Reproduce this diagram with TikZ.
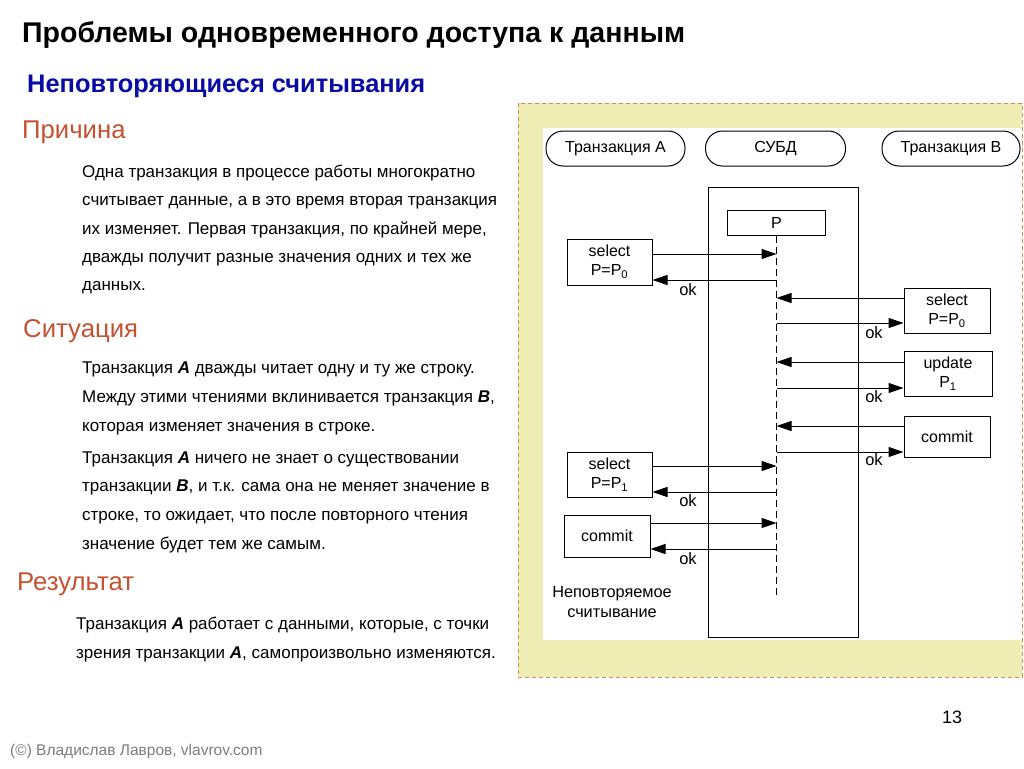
\documentclass[tikz,border=0pt]{standalone}
\usepackage{fontspec}
\setmainfont{Liberation Sans}
\usetikzlibrary{arrows.meta}
\definecolor{headred}{RGB}{196,82,50}
\definecolor{subblue}{RGB}{10,10,165}
\definecolor{panelyel}{RGB}{240,237,180}
\definecolor{paneldash}{RGB}{200,145,85}
\definecolor{footgray}{RGB}{125,125,125}
\begin{document}
\begin{tikzpicture}[x=1pt,y=-1pt,
  body/.style={anchor=base west, inner sep=0pt, font=\fontsize{17}{20}\selectfont},
  head/.style={anchor=base west, inner sep=0pt, text=headred, font=\fontsize{25.7}{30}\selectfont},
  box/.style={draw, line width=1pt, fill=white, align=center, inner sep=0pt,
    font=\fontsize{16}{19}\selectfont},
  pill/.style={box, rounded corners=17pt, minimum height=35pt, minimum width=139pt},
  msg/.style={line width=1pt, -{Triangle[length=15pt,width=10pt]}},
  oklab/.style={inner sep=0pt, font=\fontsize{16.5}{18}\selectfont},
  lifeline/.style={line width=1pt, dash pattern=on 7pt off 4pt}
]
\useasboundingbox (0,0) rectangle (1024,768);
\fill[white] (0,0) rectangle (1024,768);

% titles
\node[anchor=base west, inner sep=0pt, font=\fontsize{28.5}{32}\selectfont\bfseries] (title) at (22,42) {Проблемы одновременного доступа к данным};
\node[anchor=base west, inner sep=0pt, text=subblue, font=\fontsize{25.4}{30}\selectfont\bfseries] (subtitle) at (27,92) {Неповторяющиеся считывания};

% Причина
\node[head] (h1) at (22,138) {Причина};
\node[body] (p1a) at (82,177) {Одна транзакция в процессе работы многократно};
\node[body] (p1b) at (82,205.5) {считывает данные, а в это время вторая транзакция};
\node[body] (p1c) at (82,234) {их изменяет. Первая транзакция, по крайней мере,};
\node[body] (p1d) at (82,262) {дважды получит разные значения одних и тех же};
\node[body] (p1e) at (82,290.5) {данных.};

% Ситуация
\node[head] (h2) at (23,337) {Ситуация};
\node[body] (p2a) at (82,373) {Транзакция \textbf{\textit{A}} дважды читает одну и ту же строку.};
\node[body] (p2b) at (82,402) {Между этими чтениями вклинивается транзакция \textbf{\textit{B}},};
\node[body] (p2c) at (82,431) {которая изменяет значения в строке.};
\node[body] (p2d) at (82,463) {Транзакция \textbf{\textit{A}} ничего не знает о существовании};
\node[body] (p2e) at (82,491) {транзакции \textbf{\textit{B}}, и т.к. сама она не меняет значение в};
\node[body] (p2f) at (82,520) {строке, то ожидает, что после повторного чтения};
\node[body] (p2g) at (82,549) {значение будет тем же самым.};

% Результат
\node[head] (h3) at (17,590) {Результат};
\node[body] (p3a) at (76,629) {Транзакция \textbf{\textit{A}} работает с данными, которые, с точки};
\node[body] (p3b) at (76,658) {зрения транзакции \textbf{\textit{A}}, самопроизвольно изменяются.};

% footer
\node[anchor=base west, inner sep=0pt, text=footgray, font=\fontsize{15.5}{18}\selectfont] (foot) at (10,755) {(©) Владислав Лавров, vlavrov.com};
\node[inner sep=0pt, font=\fontsize{18}{20}\selectfont] (pagenum) at (952,717) {13};

% panel
\draw[fill=panelyel, draw=paneldash, line width=1pt, dash pattern=on 4pt off 3pt] (518,103) rectangle (1022,677);
\fill[white] (543,128) rectangle (1021.5,640);

% pills
\node[pill] (ta) at (615.5,148.5) {Транзакция А};
\node[pill, minimum width=140pt] (dbms) at (775.5,148.5) {СУБД};
\node[pill, minimum width=138pt] (tb) at (951,148.5) {Транзакция B};

% DBMS body
\draw[line width=1pt] (708,187) rectangle (858,637);
\node[box, minimum width=98pt, minimum height=25pt] (pbox) at (776.5,222.5) {P};
\coordinate (lifetop) at (pbox.south);
\coordinate (lifebot) at (776.5,596);
\draw[lifeline] (lifetop) -- (lifebot);

% left boxes
\node[box, minimum width=85pt, minimum height=46pt] (sa1) at (609.5,262) {select\\P=P\textsubscript{0}};
\node[box, minimum width=85pt, minimum height=45pt] (sa2) at (609.5,474.5) {select\\P=P\textsubscript{1}};
\node[box, minimum width=86pt, minimum height=42pt] (ca) at (607,536) {commit};

% right boxes
\node[box, minimum width=86pt, minimum height=45pt] (sb) at (947,310.5) {select\\P=P\textsubscript{0}};
\node[box, minimum width=88pt, minimum height=45pt] (ub) at (948,373.5) {update\\P\textsubscript{1}};
\node[box, minimum width=86pt, minimum height=41pt] (cb) at (947,436.5) {commit};

% lifeline points
\coordinate (l1) at (776.5,254);
\coordinate (l2) at (776.5,280);
\coordinate (l3) at (776.5,298);
\coordinate (l4) at (776.5,323);
\coordinate (l5) at (776.5,362);
\coordinate (l6) at (776.5,388);
\coordinate (l7) at (776.5,426);
\coordinate (l8) at (776.5,452);
\coordinate (l9) at (776.5,466);
\coordinate (l10) at (776.5,492);
\coordinate (l11) at (776.5,523);
\coordinate (l12) at (776.5,549);

% messages A
\draw[msg] (sa1.east |- l1) -- (l1);
\draw[msg] (l2) -- (sa1.east |- l2);
\draw[msg] (sa2.east |- l9) -- (l9);
\draw[msg] (l10) -- (sa2.east |- l10);
\draw[msg] (ca.east |- l11) -- (l11);
\draw[msg] (l12) -- (ca.east |- l12);

% messages B
\draw[msg] (sb.west |- l3) -- (l3);
\draw[msg] (l4) -- (sb.west |- l4);
\draw[msg] (ub.west |- l5) -- (l5);
\draw[msg] (l6) -- (ub.west |- l6);
\draw[msg] (cb.west |- l7) -- (l7);
\draw[msg] (l8) -- (cb.west |- l8);

% ok labels
\node[oklab] (ok1) at (688,290) {ok};
\node[oklab] (ok2) at (874,333) {ok};
\node[oklab] (ok3) at (874,397) {ok};
\node[oklab] (ok4) at (874,460) {ok};
\node[oklab] (ok5) at (688,501) {ok};
\node[oklab] (ok6) at (688,559) {ok};

\node[inner sep=0pt, align=center, font=\fontsize{16.3}{20}\selectfont] (note) at (612,602) {Неповторяемое\\считывание};
\end{tikzpicture}
\end{document}
